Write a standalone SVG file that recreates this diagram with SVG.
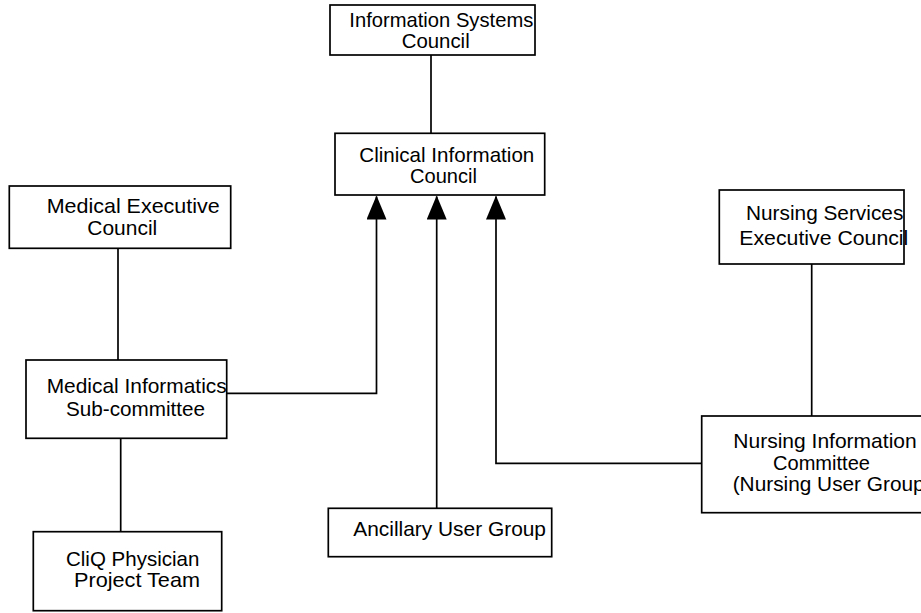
<svg xmlns="http://www.w3.org/2000/svg" width="921" height="613" viewBox="0 0 921 613">
<style>
.box{fill:#fff;stroke:#000;stroke-width:1.7}
.ln{fill:none;stroke:#000;stroke-width:1.7}
text{font-family:"Liberation Sans",Arial,sans-serif;font-size:21px;fill:#000}
</style>
<defs>
<marker id="arr" markerUnits="userSpaceOnUse" markerWidth="24" markerHeight="20" viewBox="0 0 24 20" refX="23" refY="10" orient="auto">
<path d="M0,0 L24,10 L0,20 z" fill="#000"/>
</marker>
</defs>
<rect width="921" height="613" fill="#fff"/>
<g id="connectors">
<line class="ln" x1="431" y1="55" x2="431" y2="133.3"/>
<line class="ln" x1="118" y1="248.3" x2="118" y2="360"/>
<line class="ln" x1="120.7" y1="438.3" x2="120.7" y2="531.7"/>
<line class="ln" x1="811.7" y1="264" x2="811.7" y2="416"/>
<polyline class="ln" points="226.7,393.3 376.5,393.3 376.5,196.5" marker-end="url(#arr)"/>
<line class="ln" x1="436.7" y1="508.3" x2="436.7" y2="196.5" marker-end="url(#arr)"/>
<polyline class="ln" points="701.7,463.3 496,463.3 496,196.5" marker-end="url(#arr)"/>
</g>
<g id="isc">
<rect class="box" x="330" y="5" width="205" height="50"/>
<text x="349.3" y="27" textLength="184" lengthAdjust="spacingAndGlyphs">Information Systems</text>
<text x="401.7" y="48" textLength="68" lengthAdjust="spacingAndGlyphs">Council</text>
</g>
<g id="cic">
<rect class="box" x="335" y="133.3" width="209.7" height="61.7"/>
<text x="359.3" y="161.5" textLength="175" lengthAdjust="spacingAndGlyphs">Clinical Information</text>
<text x="410" y="182.5" textLength="67" lengthAdjust="spacingAndGlyphs">Council</text>
</g>
<g id="mec">
<rect class="box" x="9.3" y="186" width="221.4" height="62.3"/>
<text x="46.7" y="213" textLength="173" lengthAdjust="spacingAndGlyphs">Medical Executive</text>
<text x="87.3" y="234.5" textLength="70" lengthAdjust="spacingAndGlyphs">Council</text>
</g>
<g id="mis">
<rect class="box" x="26" y="360" width="200.7" height="78.3"/>
<text x="46.7" y="393" textLength="180" lengthAdjust="spacingAndGlyphs">Medical Informatics</text>
<text x="66" y="415.5" textLength="139" lengthAdjust="spacingAndGlyphs">Sub-committee</text>
</g>
<g id="cliq">
<rect class="box" x="33.3" y="531.7" width="188.4" height="79"/>
<text x="66" y="566" textLength="133.3" lengthAdjust="spacingAndGlyphs">CliQ Physician</text>
<text x="74" y="586.5" textLength="126" lengthAdjust="spacingAndGlyphs">Project Team</text>
</g>
<g id="ancillary">
<rect class="box" x="328.3" y="508.3" width="223.4" height="48.4"/>
<text x="353.3" y="535.5" textLength="192.7" lengthAdjust="spacingAndGlyphs">Ancillary User Group</text>
</g>
<g id="nsec">
<rect class="box" x="719.3" y="190" width="184.7" height="74"/>
<text x="746" y="220" textLength="157.3" lengthAdjust="spacingAndGlyphs">Nursing Services</text>
<text x="739.3" y="244.5" textLength="169" lengthAdjust="spacingAndGlyphs">Executive Council</text>
</g>
<g id="nic">
<rect class="box" x="701.7" y="416" width="240" height="96.7"/>
<text x="733.3" y="448" textLength="183.4" lengthAdjust="spacingAndGlyphs">Nursing Information</text>
<text x="773" y="469.5" textLength="97" lengthAdjust="spacingAndGlyphs">Committee</text>
<text x="732.7" y="490.5" textLength="192" lengthAdjust="spacingAndGlyphs">(Nursing User Group</text>
</g>
</svg>
